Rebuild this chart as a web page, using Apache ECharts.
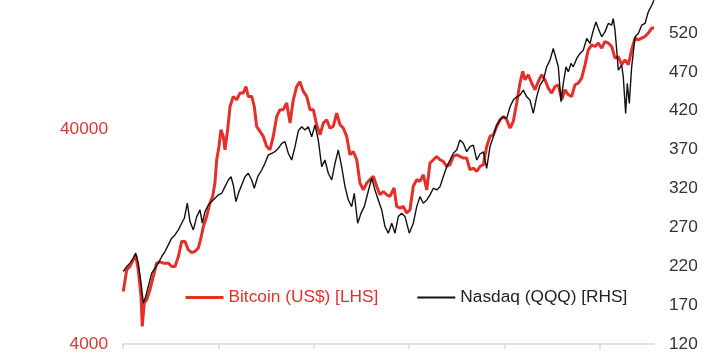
<!DOCTYPE html>
<html>
<head>
<meta charset="utf-8">
<script src="https://cdn.jsdelivr.net/npm/echarts@6/dist/echarts.min.js"></script>
<style>
html,body{margin:0;padding:0;background:#fff;}
#chart{width:717px;height:355px;}
</style>
</head>
<body>
<div id="chart"></div>
<script>
// Dates as decimal years
var btcDates = [2020.003,2020.039,2020.073,2020.105,2020.133,2020.160,2020.189,2020.202,2020.223,2020.248,2020.283,2020.318,2020.353,2020.388,2020.422,2020.475,2020.510,2020.545,2020.580,2020.615,2020.650,2020.684,2020.720,2020.755,2020.789,2020.818,2020.842,2020.877,2020.912,2020.940,2020.964,2020.982,2021.006,2021.027,2021.051,2021.069,2021.097,2021.122,2021.156,2021.192,2021.226,2021.261,2021.289,2021.313,2021.349,2021.376,2021.401,2021.436,2021.471,2021.506,2021.541,2021.575,2021.611,2021.646,2021.680,2021.716,2021.751,2021.785,2021.821,2021.855,2021.890,2021.926,2021.960,2021.995,2022.030,2022.065,2022.100,2022.135,2022.170,2022.204,2022.240,2022.275,2022.309,2022.345,2022.379,2022.414,2022.450,2022.484,2022.519,2022.555,2022.589,2022.624,2022.659,2022.694,2022.729,2022.764,2022.799,2022.841,2022.869,2022.904,2022.938,2022.974,2023.008,2023.043,2023.079,2023.113,2023.148,2023.184,2023.218,2023.253,2023.288,2023.323,2023.357,2023.393,2023.428,2023.462,2023.498,2023.532,2023.567,2023.603,2023.637,2023.672,2023.708,2023.742,2023.777,2023.812,2023.847,2023.882,2023.917,2023.952,2023.986,2024.022,2024.057,2024.091,2024.127,2024.161,2024.190,2024.214,2024.248,2024.284,2024.319,2024.353,2024.389,2024.423,2024.458,2024.493,2024.528,2024.563,2024.599,2024.633,2024.668,2024.703,2024.738,2024.773,2024.808,2024.843,2024.877,2024.913,2024.948,2024.982,2025.018,2025.052,2025.087,2025.123,2025.157,2025.192,2025.227,2025.262,2025.297,2025.332,2025.367,2025.402,2025.437,2025.472,2025.506,2025.542,2025.566];
var btcValues = [7025,8863,9184,9824,10365,8863,6660,4830,6226,6428,7154,8250,9510,9646,9510,9510,9184,9184,10178,12003,12003,10981,10637,10786,11181,12488,14095,15688,18165,19435,22506,28800,33200,39700,36960,32050,39700,50950,56720,54750,58830,58830,63130,56720,56720,50950,41130,38990,36960,33200,32050,36960,45780,49230,49230,52850,42650,54750,63130,66500,59840,56720,49230,49230,41880,37630,42650,44190,40430,41130,47480,41880,40430,36960,30380,31470,28800,22430,20870,22430,23270,24110,21670,19790,20500,19790,19435,21270,17460,17160,17460,16270,16860,21670,23270,22820,24520,20870,27800,28800,29830,28800,28280,26800,27290,29830,30380,29830,29330,29330,25870,26340,25400,26800,27290,33200,36960,37630,41130,44190,45780,44190,40430,43390,52850,65480,74140,67800,71560,65480,60940,66580,71560,67800,62060,58830,63130,64290,54750,60940,57770,56720,64290,65480,69060,79640,93520,98660,96890,100480,95240,102220,100480,96890,85560,87030,79640,84030,79640,93520,105990,104080,105990,107820,111840,118000,118000];

var qqqDates = [2020.003,2020.039,2020.073,2020.108,2020.133,2020.160,2020.189,2020.213,2020.238,2020.265,2020.301,2020.335,2020.370,2020.406,2020.440,2020.475,2020.510,2020.545,2020.580,2020.615,2020.643,2020.674,2020.702,2020.737,2020.773,2020.807,2020.831,2020.860,2020.894,2020.930,2020.964,2020.999,2021.035,2021.069,2021.104,2021.132,2021.156,2021.184,2021.216,2021.244,2021.279,2021.313,2021.349,2021.376,2021.412,2021.454,2021.488,2021.523,2021.559,2021.593,2021.628,2021.664,2021.698,2021.733,2021.768,2021.803,2021.838,2021.873,2021.908,2021.942,2021.978,2022.013,2022.047,2022.083,2022.117,2022.152,2022.188,2022.222,2022.257,2022.292,2022.327,2022.362,2022.397,2022.424,2022.460,2022.495,2022.529,2022.565,2022.607,2022.641,2022.676,2022.712,2022.746,2022.781,2022.817,2022.851,2022.886,2022.921,2022.956,2023.001,2023.043,2023.079,2023.113,2023.148,2023.184,2023.218,2023.253,2023.288,2023.323,2023.357,2023.393,2023.428,2023.462,2023.498,2023.532,2023.567,2023.603,2023.637,2023.672,2023.708,2023.742,2023.777,2023.812,2023.847,2023.882,2023.917,2023.952,2023.986,2024.022,2024.057,2024.091,2024.127,2024.161,2024.196,2024.232,2024.266,2024.301,2024.336,2024.371,2024.406,2024.441,2024.476,2024.510,2024.539,2024.563,2024.591,2024.615,2024.644,2024.668,2024.696,2024.720,2024.756,2024.790,2024.825,2024.861,2024.895,2024.930,2024.958,2024.982,2025.018,2025.052,2025.087,2025.123,2025.139,2025.157,2025.175,2025.192,2025.227,2025.244,2025.269,2025.286,2025.307,2025.332,2025.367,2025.402,2025.437,2025.472,2025.506,2025.542,2025.566];
var qqqValues = [213.2,219.6,224.0,230.4,236.8,224.0,198.3,172.6,181.1,193.9,211.1,217.6,224.0,232.5,238.9,247.5,256.1,260.3,266.7,275.3,281.7,301.0,277.4,266.7,283.8,292.4,275.3,290.2,298.8,303.1,307.4,311.7,313.8,322.3,330.9,335.1,324.5,303.1,315.9,324.5,335.1,339.5,330.9,320.3,335.1,343.7,352.3,363.0,365.2,367.2,371.6,378.0,380.1,365.2,356.6,373.7,394.1,399.3,395.1,399.3,386.5,401.5,382.3,348.0,356.6,339.5,330.9,352.3,369.4,348.0,322.3,305.2,296.6,313.8,275.3,288.2,296.6,313.8,333.1,318.1,305.2,292.4,271.0,262.5,275.3,262.5,283.8,288.2,283.8,262.5,275.3,296.6,309.5,301.0,305.2,311.7,320.3,318.1,322.3,335.1,348.0,356.6,365.2,369.4,382.3,378.0,367.2,373.7,375.8,356.6,364.3,366.9,345.9,373.7,386.5,401.5,407.9,412.2,410.1,425.0,433.6,437.8,440.0,446.4,437.8,433.6,416.5,437.8,452.9,459.3,476.4,485.0,500.0,487.1,476.4,431.4,455.0,476.4,469.9,480.7,476.4,487.1,493.6,497.8,512.8,506.4,523.5,534.1,525.7,514.9,521.3,532.1,529.9,538.5,523.5,497.8,472.1,478.5,463.5,416.5,455.0,429.4,476.4,514.9,519.2,529.9,532.1,547.0,555.6,562.0];

var yearTicks = [2020, 2021, 2022, 2023, 2024, 2025];
var leftTickLabels = [4000, 40000];
var seriesNames = ['Bitcoin (US$) [LHS]', 'Nasdaq (QQQ) [RHS]'];

var RED = '#e5302a';
var FONT = '"Liberation Sans", Arial, Helvetica, sans-serif';
var FS = 17.3;

function zip(a, b) { return a.map(function (d, i) { return [d, b[i]]; }); }

var chart = echarts.init(document.getElementById('chart'), null, { renderer: 'canvas' });
chart.setOption({
  animation: false,
  backgroundColor: '#ffffff',
  textStyle: { fontFamily: FONT },
  grid: { left: 123, right: 63, top: -6, bottom: 11, containLabel: false, outerBoundsMode: 'none' },
  legend: {
    left: 184,
    top: 289,
    padding: 0,
    itemWidth: 38,
    itemHeight: 18,
    itemGap: 38,
    itemStyle: { color: 'rgba(0,0,0,0)', borderWidth: 0, opacity: 0 },
    textStyle: { fontSize: FS, fontFamily: FONT },
    data: [
      { name: seriesNames[0], textStyle: { color: RED }, lineStyle: { width: 3 } },
      { name: seriesNames[1], textStyle: { color: '#222222' }, lineStyle: { width: 2 } }
    ]
  },
  xAxis: {
    type: 'value',
    min: 2020,
    max: 2025.566,
    splitLine: { show: false },
    axisLine: { show: true, lineStyle: { color: '#d9d9d9', width: 1.5 } },
    axisTick: { show: true, customValues: yearTicks, length: 5, lineStyle: { color: '#d9d9d9', width: 1.5 } },
    axisLabel: { show: false }
  },
  yAxis: [
    {
      type: 'log',
      logBase: 10,
      min: 4000,
      max: 170000,
      position: 'left',
      splitLine: { show: false },
      axisLine: { show: false },
      axisTick: { show: false },
      axisLabel: {
        customValues: leftTickLabels,
        color: '#d63b34',
        fontSize: FS,
        fontFamily: FONT,
        margin: 15,
        formatter: function (v) { return String(Math.round(v)); }
      }
    },
    {
      type: 'value',
      min: 120,
      max: 570,
      interval: 50,
      position: 'right',
      splitLine: { show: false },
      axisLine: { show: false },
      axisTick: { show: false },
      axisLabel: { color: '#333333', fontSize: FS, fontFamily: FONT, margin: 15, showMaxLabel: true }
    }
  ],
  series: [
    {
      name: seriesNames[0],
      type: 'line',
      yAxisIndex: 0,
      data: zip(btcDates, btcValues),
      showSymbol: false,
      symbol: 'none',
      color: RED,
      lineStyle: { color: RED, width: 3 }
    },
    {
      name: seriesNames[1],
      type: 'line',
      yAxisIndex: 1,
      data: zip(qqqDates, qqqValues),
      showSymbol: false,
      symbol: 'none',
      color: '#111111',
      lineStyle: { color: '#111111', width: 1.4 }
    }
  ]
});
</script>
</body>
</html>
